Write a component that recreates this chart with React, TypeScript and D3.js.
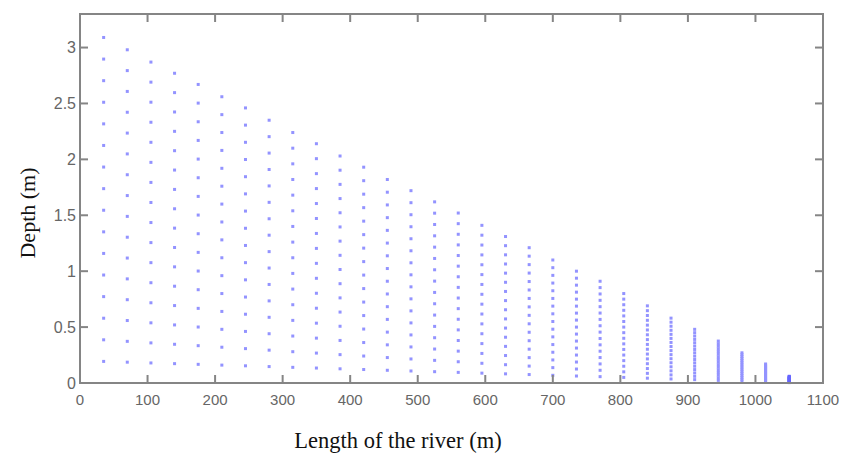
import React from "react";
import * as d3 from "d3";

// Column stations along the river (m)
const stations = [35, 70, 105, 140, 175, 210, 245, 280, 315, 350, 385, 420, 455, 490, 525, 560, 595, 630, 665, 700, 735, 770, 805, 840, 875, 910, 945, 980, 1015, 1050];
// Water depth at each station (m)
const columnDepths = [3.09, 2.98, 2.87, 2.77, 2.67, 2.56, 2.46, 2.35, 2.24, 2.14, 2.03, 1.93, 1.82, 1.72, 1.62, 1.52, 1.41, 1.31, 1.21, 1.1, 1.0, 0.91, 0.8, 0.69, 0.58, 0.48, 0.375, 0.27, 0.17, 0.06];
// Number of vertical (sigma) layers in each column
const layerCount = 16;

const xTicks = [0, 100, 200, 300, 400, 500, 600, 700, 800, 900, 1000, 1100];
const yTicks = [0, 0.5, 1, 1.5, 2, 2.5, 3];

const W = 842, H = 455;
const L = 80, R = 823, T = 14, B = 383;

export default function App() {
  const x = d3.scaleLinear().domain([0, 1100]).range([L, R]);
  const y = d3.scaleLinear().domain([0, 3.3]).range([B, T]);

  const axisColor = "#858585";
  const tickColor = "#666666";
  const tl = 8;

  return (
    <svg width={W} height={H} style={{ position: "absolute", left: 0, top: 0, background: "#fff" }}>
      {stations.map((s, i) => {
        const depth = columnDepths[i];
        const levels = d3.range(1, layerCount + 1).map((k) => (depth * k) / layerCount);
        const op = i === stations.length - 1 ? 0.6 : 0.42;
        return (
          <g key={s} opacity={op}>
            {levels.map((d, k) => (
              <rect key={k} x={x(s) - 1.5} y={y(d) - 1.5} width={3} height={3} fill="#0000ff" />
            ))}
          </g>
        );
      })}
      <rect x={L} y={T} width={R - L} height={B - T} fill="none" stroke={axisColor} strokeWidth={2} />
      {xTicks.map((t) => (
        <g key={"x" + t}>
          <line x1={x(t)} x2={x(t)} y1={B} y2={B - tl} stroke={axisColor} strokeWidth={2} />
          <line x1={x(t)} x2={x(t)} y1={T} y2={T + tl} stroke={axisColor} strokeWidth={2} />
          <text x={x(t)} y={405} textAnchor="middle" fontFamily="Liberation Sans, Arial, sans-serif" fontSize={15} fill={tickColor}>
            {t}
          </text>
        </g>
      ))}
      {yTicks.map((t) => (
        <g key={"y" + t}>
          <line x1={L} x2={L + tl} y1={y(t)} y2={y(t)} stroke={axisColor} strokeWidth={2} />
          <line x1={R} x2={R - tl} y1={y(t)} y2={y(t)} stroke={axisColor} strokeWidth={2} />
          <text x={76} y={y(t)} dy="0.36em" textAnchor="end" fontFamily="Liberation Sans, Arial, sans-serif" fontSize={16} fill={tickColor}>
            {t}
          </text>
        </g>
      ))}
      <text x={398} y={448} textAnchor="middle" fontFamily="Liberation Serif, Times New Roman, serif" fontSize={22.5} fill="#111">
        Length of the river (m)
      </text>
      <text transform="translate(35,213) rotate(-90)" textAnchor="middle" fontFamily="Liberation Serif, Times New Roman, serif" fontSize={22} fill="#111">
        Depth (m)
      </text>
    </svg>
  );
}
